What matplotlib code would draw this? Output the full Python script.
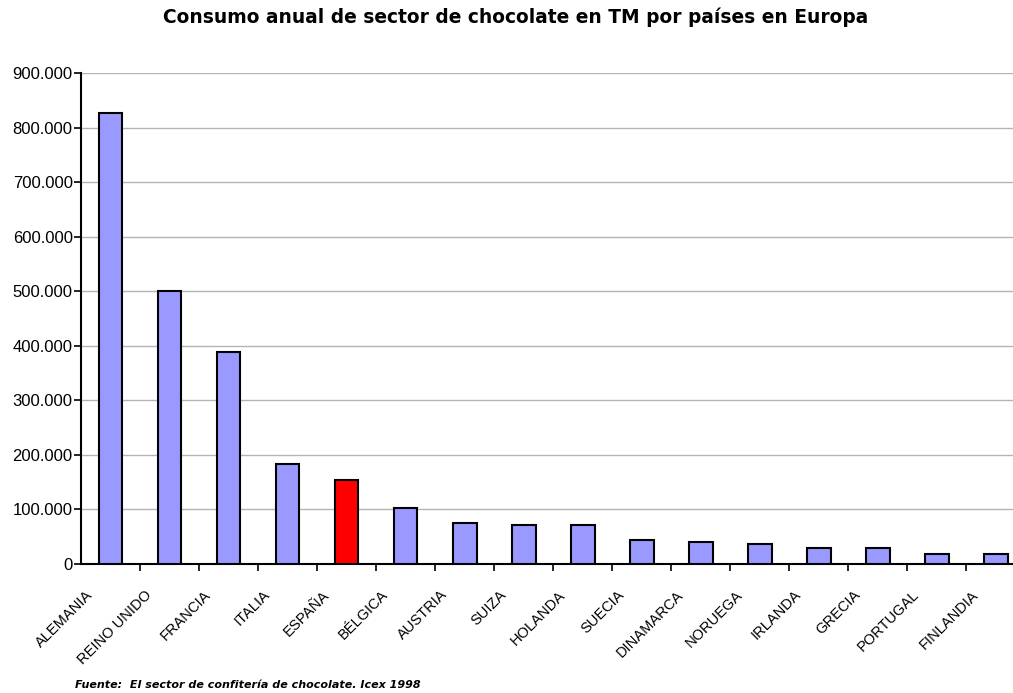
import matplotlib.pyplot as plt
import matplotlib.transforms as mtransforms
from matplotlib.ticker import FuncFormatter, FixedLocator
import numpy as np

# Datos (TM)
paises = ['ALEMANIA', 'REINO UNIDO', 'FRANCIA', 'ITALIA', 'ESPAÑA', 'BÉLGICA',
          'AUSTRIA', 'SUIZA', 'HOLANDA', 'SUECIA', 'DINAMARCA', 'NORUEGA',
          'IRLANDA', 'GRECIA', 'PORTUGAL', 'FINLANDIA']
consumo = [827000, 500000, 388000, 183000, 154000, 102000, 76000, 71000,
           71000, 44000, 41000, 36000, 29000, 29000, 18000, 18000]
destacado = 'ESPAÑA'

fig = plt.figure(figsize=(10.13, 6.93), dpi=100)
W, H = 1013, 693
ax = fig.add_axes([81 / W, (H - 564) / H, (1025.5 - 81) / W, (564 - 73) / H])

x = np.arange(len(paises))
colores = ['#FF0000' if p == destacado else '#9999FF' for p in paises]
ax.bar(x, consumo, width=0.4, color=colores, edgecolor='black', linewidth=1.5, zorder=3)

ax.set_xlim(-0.5, len(paises) - 0.5)
ax.set_ylim(0, 900000)
ax.set_yticks(np.arange(0, 900001, 100000))
ax.yaxis.set_major_formatter(FuncFormatter(lambda v, p: f'{int(v):,}'.replace(',', '.')))
ax.grid(axis='y', color='#b4b4b4', linewidth=1.0, linestyle='-', zorder=0)

# ticks entre categorías, etiquetas en el centro
ax.xaxis.set_major_locator(FixedLocator(x[:-1] + 0.5))
ax.xaxis.set_minor_locator(FixedLocator(x))
ax.tick_params(axis='x', which='major', direction='out', length=5, width=1.2, labelbottom=False)
ax.tick_params(axis='x', which='minor', length=0, pad=17)
ax.set_xticklabels(paises, minor=True, rotation=45, ha='right',
                   family='Liberation Sans', fontsize=10.5)
offset = mtransforms.ScaledTranslation(-15 / 100, 0, fig.dpi_scale_trans)
for lbl in ax.xaxis.get_minorticklabels():
    lbl.set_transform(lbl.get_transform() + offset)

ax.tick_params(axis='y', direction='out', length=5, width=1.2, labelsize=12, pad=1)
for lbl in ax.get_yticklabels():
    lbl.set_family('Liberation Sans')

for s in ['top', 'right']:
    ax.spines[s].set_visible(False)
ax.spines['left'].set_linewidth(1.5)
ax.spines['bottom'].set_linewidth(1.5)

fig.text(516 / W, 1 - 17 / H, 'Consumo anual de sector de chocolate en TM por países en Europa',
         ha='center', va='center', fontsize=13.4, fontweight='bold', family='DejaVu Sans')
fig.text(75 / W, 1 - 685 / H, 'Fuente:  El sector de confitería de chocolate. Icex 1998',
         ha='left', va='center', fontsize=8, fontweight='bold', style='italic', family='DejaVu Sans')

fig.savefig('out.png', dpi=100)
